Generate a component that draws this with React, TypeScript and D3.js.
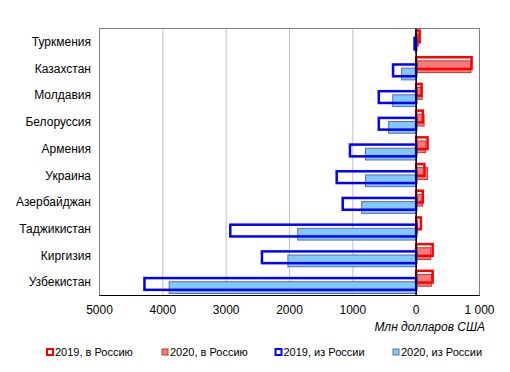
import React from "react";
import * as d3 from "d3";

const countries = [
  "Туркмения",
  "Казахстан",
  "Молдавия",
  "Белоруссия",
  "Армения",
  "Украина",
  "Азербайджан",
  "Таджикистан",
  "Киргизия",
  "Узбекистан",
];
// млн долларов США; "из России" negative
const to2019 = [55, 875, 85, 105, 180, 130, 105, 75, 260, 260];
const to2020 = [40, 865, 95, 125, 150, 180, 100, 25, 230, 245];
const from2019 = [-25, -365, -590, -590, -1045, -1255, -1160, -2935, -2435, -4290];
const from2020 = [-10, -230, -370, -435, -800, -800, -860, -1870, -2025, -3900];

const xTicks = [-5000, -4000, -3000, -2000, -1000, 0, 1000];
const xTickLabels = ["5000", "4000", "3000", "2000", "1000", "0", "1 000"];

const legendItems = [
  { label: "2019, в Россию", fill: "#fff", stroke: "#ff0000", sw: 2 },
  { label: "2020, в Россию", fill: "#f77b7b", stroke: "#c0392b", sw: 1 },
  { label: "2019, из России", fill: "#fff", stroke: "#0000ff", sw: 2 },
  { label: "2020, из России", fill: "#82c8f8", stroke: "#5b6ea8", sw: 1 },
];

const W = 510;
const H = 372;
const font = "'Liberation Sans', Arial, sans-serif";

export default function App() {
  const left = 99.5;
  const right = 479.5;
  const top = 28.5;
  const bottom = 295.5;

  const x = d3.scaleLinear().domain([-5000, 1000]).range([left, right]);
  const y = d3.scaleBand().domain(countries).range([top, bottom]).padding(0);
  const bw = y.bandwidth();
  const h = bw * 0.44;
  const step = bw * 0.136;
  const offs = [-1.5, -0.5, 0.5, 1.5].map((k) => k * step - h / 2);

  const rect = (v: number, i: number, s: number) => {
    const x0 = x(0);
    const x1 = x(v);
    return {
      x: Math.min(x0, x1),
      w: Math.abs(x1 - x0),
      y: (y(countries[i]) as number) + bw / 2 + offs[s],
    };
  };

  const fills = [
    { data: to2020, s: 1, fill: "#f77b7b", stroke: "#c0392b", sw: 1 },
    { data: from2020, s: 3, fill: "#82c8f8", stroke: "#5b6ea8", sw: 1 },
  ];
  const outlines = [
    { data: to2019, s: 0, stroke: "#ff0000", sw: 2.5 },
    { data: from2019, s: 2, stroke: "#0000ff", sw: 2.5 },
  ];

  return (
    <svg width={W} height={H} style={{ position: "absolute", left: 0, top: 0 }}>
      <rect x={0} y={0} width={W} height={H} fill="#fff" />
      {/* grid */}
      {xTicks.map((t) => (
        <line key={t} x1={x(t)} x2={x(t)} y1={top} y2={bottom} stroke="#c0c0c0" strokeWidth={1} />
      ))}
      <rect x={left} y={top} width={right - left} height={bottom - top} fill="none" stroke="#808080" strokeWidth={1} />

      {fills.map((f) =>
        f.data.map((v, i) => {
          const r = rect(v, i, f.s);
          return (
            <rect key={`f${f.s}-${i}`} x={r.x} y={r.y} width={r.w} height={h} fill={f.fill} stroke={f.stroke} strokeWidth={f.sw} />
          );
        })
      )}
      {outlines.map((f) =>
        f.data.map((v, i) => {
          const r = rect(v, i, f.s);
          return (
            <rect key={`o${f.s}-${i}`} x={r.x} y={r.y} width={r.w} height={h} fill="none" stroke={f.stroke} strokeWidth={f.sw} />
          );
        })
      )}

      <line x1={x(0)} x2={x(0)} y1={top} y2={bottom} stroke="#000" strokeWidth={1.5} />
      <line x1={left} x2={right} y1={bottom} y2={bottom} stroke="#000" strokeWidth={1} />

      {countries.map((c) => (
        <text key={c} x={91} y={(y(c) as number) + bw / 2} dy="0.35em" textAnchor="end" fontFamily={font} fontSize={12} fill="#000">
          {c}
        </text>
      ))}
      {xTicks.map((t, i) => (
        <text key={t} x={x(t)} y={310} dy="0.35em" textAnchor="middle" fontFamily={font} fontSize={12} fill="#000">
          {xTickLabels[i]}
        </text>
      ))}
      <text x={485} y={327} dy="0.35em" textAnchor="end" fontFamily={font} fontSize={12} fontStyle="italic" fill="#000">
        Млн долларов США
      </text>

      {legendItems.map((l, i) => {
        const lx = [47, 162, 275.5, 393][i];
        return (
          <g key={l.label}>
            <rect x={lx} y={349} width={6} height={6} fill={l.fill} stroke={l.stroke} strokeWidth={l.sw} />
            <text x={lx + 8} y={352.5} dy="0.35em" fontFamily={font} fontSize={11} fill="#000">
              {l.label}
            </text>
          </g>
        );
      })}
    </svg>
  );
}
